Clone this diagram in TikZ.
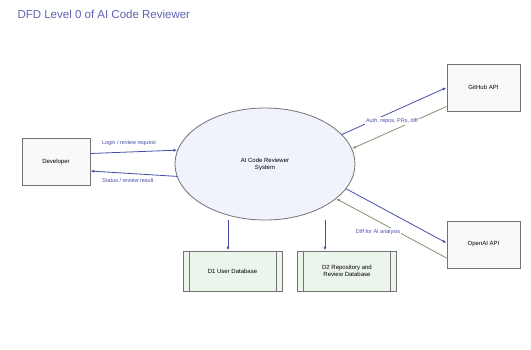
\documentclass[tikz,border=0pt]{standalone}
\usepackage{fontspec}
\setmainfont{Liberation Sans}
\usetikzlibrary{arrows.meta,positioning,shapes.geometric}
\definecolor{flowblue}{RGB}{70,78,170}
\definecolor{titleblue}{RGB}{95,100,180}
\definecolor{backgreen}{RGB}{130,145,115}
\definecolor{edgegray}{RGB}{115,115,115}
\definecolor{procfill}{RGB}{241,243,252}
\definecolor{storefill}{RGB}{236,245,236}

\begin{document}
\begin{tikzpicture}[x=1pt, y=-1pt,
    entity/.style={draw=edgegray, thick, fill=gray!5, minimum width=68pt, minimum height=47pt, align=center, font=\fontsize{6}{7}\selectfont},
    proc/.style={ellipse, draw=edgegray, thick, fill=procfill, minimum width=180pt, minimum height=112pt, inner sep=0pt, align=center, font=\fontsize{6}{7}\selectfont},
    store/.style={draw=edgegray, thick, fill=storefill, minimum width=99pt, minimum height=40pt, align=center, font=\fontsize{6}{7}\selectfont,
        path picture={\draw[edgegray, thick] ([xshift=6pt]path picture bounding box.north west) -- ([xshift=6pt]path picture bounding box.south west)
            ([xshift=-6pt]path picture bounding box.north east) -- ([xshift=-6pt]path picture bounding box.south east);}},
    arr/.style={-{Latex[length=4pt,width=3pt]}, thick, flowblue},
    back/.style={-{Latex[length=4pt,width=3pt]}, thick, backgreen},
    lbl/.style={font=\fontsize{5.5}{6}\selectfont, text=flowblue, inner sep=1pt}
]
\fill[white] (0,0) rectangle (531,349);
\useasboundingbox (0,0) rectangle (531,349);

\node[anchor=west, text=titleblue, font=\fontsize{11.5}{13}\selectfont] (title) at (14,14) {DFD Level 0 of AI Code Reviewer};

\node[proc] (sys) at (265,164) {AI Code Reviewer\\System};
\node[entity] (dev) at (56,161.5) {Developer};
\node[entity, minimum width=73pt] (gh) at (483.5,87.5) {GitHub API};
\node[entity, minimum width=73pt] (ai) at (483.5,244.5) {OpenAI API};
\node[store] (d1) at (232.5,271) {D1 User Database};
\node[store] (d2) at (347,271) {D2 Repository and\\Review Database};

% developer <-> system
\draw[arr] ([yshift=8pt]dev.east) -- (sys.171);
\draw[arr] (sys.188) -- ([yshift=-9.5pt]dev.east);
\node[lbl] (login) at (129,143) {Login / review request};
\node[lbl] (status) at (128,181) {Status / review result};

% system <-> github
\draw[arr] (sys.21) -- (gh.west);
\draw[back] ([yshift=-19pt]gh.west) -- (sys.10);
\node[lbl, fill=white] (auth) at (392,121) {Auth, repos, PRs, diff};

% system <-> openai
\draw[arr] (sys.-17) -- ([yshift=1.5pt]ai.west);
\draw[back] ([yshift=-13.5pt]ai.west) -- (sys.-26);
\node[lbl, fill=white] (diff) at (378,232) {Diff for AI analysis};

% data stores
\coordinate (d2top) at ([xshift=-22pt]d2.north);
\draw[arr] (sys.south -| 228,0) -- (d1.north -| 228,0);
\draw[arr] (sys.south -| d2top) -- (d2top);
\end{tikzpicture}
\end{document}
